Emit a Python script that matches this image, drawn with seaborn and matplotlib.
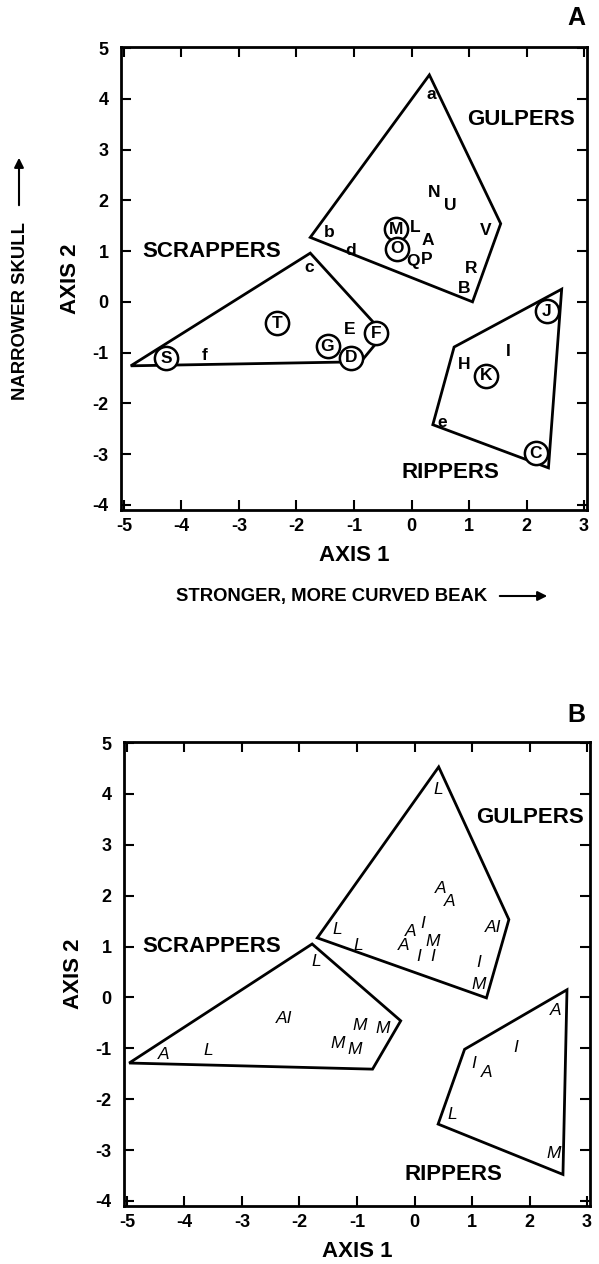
import numpy as np
import pandas as pd
import matplotlib
matplotlib.use("Agg")
import matplotlib.pyplot as plt
import seaborn as sns

# Panel A: taxon codes on the first two discriminant axes
labels_a = ['a', 'N', 'U', 'M', 'L', 'A', 'O', 'Q', 'P', 'V', 'R', 'B', 'b', 'd',
            'c', 'E', 'F', 'G', 'D', 'J', 'I', 'H', 'K', 'e', 'C', 'T', 'S', 'f']
x_a = [0.34, 0.39, 0.68, -0.27, 0.07, 0.28, -0.26, 0.02, 0.27, 1.29, 1.03, 0.91, -1.43, -1.06,
       -1.78, -1.07, -0.62, -1.46, -1.05, 2.35, 1.68, 0.91, 1.29, 0.54, 2.16, -2.33, -4.27, -3.59]
y_a = [4.09, 2.15, 1.90, 1.43, 1.46, 1.21, 1.05, 0.80, 0.84, 1.41, 0.65, 0.27, 1.36, 1.01,
       0.67, -0.54, -0.62, -0.87, -1.10, -0.19, -0.98, -1.23, -1.46, -2.37, -2.98, -0.42, -1.11, -1.05]
circled_a = ['M', 'O', 'F', 'G', 'D', 'J', 'K', 'C', 'T', 'S']

# convex hulls (panel A)
gulp_a_x = [0.31, 1.55, 1.06, -1.76]
gulp_a_y = [4.47, 1.54, 0.00, 1.27]
scrap_a_x = [-1.76, -0.48, -0.88, -4.88]
scrap_a_y = [0.96, -0.63, -1.18, -1.26]
rip_a_x = [2.61, 2.38, 0.37, 0.74]
rip_a_y = [0.25, -3.27, -2.42, -0.89]

# Panel B: age / sex codes
labels_b = ['L', 'A', 'A', 'I', 'A', 'M', 'A', 'I', 'I', 'AI', 'I', 'M', 'L', 'L',
            'L', 'AI', 'M', 'M', 'M', 'M', 'A', 'L', 'A', 'I', 'I', 'A', 'L', 'M']
x_b = [0.42, 0.45, 0.61, 0.14, -0.06, 0.31, -0.19, 0.07, 0.31, 1.37, 1.12, 1.12, -1.35, -0.97,
       -1.71, -2.26, -0.96, -0.56, -1.33, -1.04, -4.36, -3.59, 2.45, 1.76, 1.03, 1.25, 0.65, 2.42]
y_b = [4.09, 2.15, 1.88, 1.46, 1.29, 1.10, 1.02, 0.81, 0.81, 1.38, 0.68, 0.25, 1.34, 1.02,
       0.71, -0.41, -0.55, -0.62, -0.90, -1.03, -1.13, -1.05, -0.26, -0.98, -1.29, -1.47, -2.31, -3.06]

gulp_b_x = [0.42, 1.64, 1.25, -1.69]
gulp_b_y = [4.53, 1.53, -0.01, 1.17]
scrap_b_x = [-1.78, -0.24, -0.73, -4.96]
scrap_b_y = [1.05, -0.46, -1.41, -1.29]
rip_b_x = [2.65, 2.58, 0.41, 0.87]
rip_b_y = [0.15, -3.48, -2.49, -1.02]

groups = ['GULPERS', 'SCRAPPERS', 'RIPPERS']
group_a_x = [1.90, -3.47, 0.68]
group_a_y = [3.60, 0.99, -3.37]
group_b_x = [2.01, -3.52, 0.67]
group_b_y = [3.54, 1.00, -3.48]

sns.set_theme(style="ticks")
plt.rcParams["font.family"] = ["Liberation Sans", "DejaVu Sans"]
plt.rcParams["axes.unicode_minus"] = False
plt.rcParams["text.color"] = "black"
plt.rcParams["axes.labelcolor"] = "black"
plt.rcParams["xtick.color"] = "black"
plt.rcParams["ytick.color"] = "black"

W, H = 599, 1264
fig = plt.figure(figsize=(W / 100, H / 100), dpi=100)
ax_a = fig.add_axes([121 / W, 1 - 510 / H, 466 / W, 463 / H])
ax_b = fig.add_axes([124 / W, 1 - 1206 / H, 466 / W, 464 / H])


def style_axes(ax):
    ax.set_xlim(-5.05, 3.05)
    ax.set_ylim(-4.1, 5.02)
    ax.set_xticks(range(-5, 4))
    ax.set_yticks(range(-4, 6))
    ax.tick_params(direction="in", length=7, width=1.5, top=True, right=True,
                   labelsize=13, colors="black")
    ax.tick_params(axis="y", pad=9)
    ax.tick_params(axis="x", pad=6)
    for sp in ax.spines.values():
        sp.set_visible(True)
        sp.set_linewidth(2)
        sp.set_color("black")
    for lbl in ax.get_xticklabels() + ax.get_yticklabels():
        lbl.set_fontweight("bold")
    ax.set_xlabel("AXIS 1", fontsize=16, fontweight="bold", labelpad=7, color="black")
    ax.set_ylabel("AXIS 2", fontsize=16, fontweight="bold", labelpad=8, color="black")


def hull(ax, xs, ys):
    ax.fill(xs, ys, fill=False, edgecolor="black", lw=2, joinstyle="miter")


# ---- panel A
df_a = pd.DataFrame({"x": x_a, "y": y_a, "label": labels_a})
for xs, ys in [(gulp_a_x, gulp_a_y), (scrap_a_x, scrap_a_y), (rip_a_x, rip_a_y)]:
    hull(ax_a, xs, ys)
circ = df_a[df_a["label"].isin(circled_a)]
sns.scatterplot(data=circ, x="x", y="y", ax=ax_a, s=280, marker="o",
                facecolor="white", edgecolor="black", linewidth=1.8, zorder=3)
for _, r in df_a.iterrows():
    ax_a.text(r["x"], r["y"], r["label"], ha="center", va="center",
              fontsize=12.5, fontweight="bold", zorder=4)
for g, gx, gy in zip(groups, group_a_x, group_a_y):
    ax_a.text(gx, gy, g, ha="center", va="center", fontsize=16, fontweight="bold")
style_axes(ax_a)

# ---- panel B
df_b = pd.DataFrame({"x": x_b, "y": y_b, "label": labels_b})
for xs, ys in [(gulp_b_x, gulp_b_y), (scrap_b_x, scrap_b_y), (rip_b_x, rip_b_y)]:
    hull(ax_b, xs, ys)
for _, r in df_b.iterrows():
    ax_b.text(r["x"], r["y"], r["label"], ha="center", va="center",
              fontsize=12.5, fontstyle="italic", zorder=4)
for g, gx, gy in zip(groups, group_b_x, group_b_y):
    ax_b.text(gx, gy, g, ha="center", va="center", fontsize=16, fontweight="bold")
style_axes(ax_b)

# extra annotations
fig.text(332 / W, 1 - 596 / H, "STRONGER, MORE CURVED BEAK", ha="center", va="center",
         fontsize=13.3, fontweight="bold")
ax_a.annotate("", xy=(550 / W, 1 - 596 / H), xytext=(497 / W, 1 - 596 / H),
              xycoords="figure fraction", textcoords="figure fraction", annotation_clip=False,
              arrowprops=dict(arrowstyle="-|>", lw=1.5, color="black", mutation_scale=14))
fig.text(21 / W, 1 - 311 / H, "NARROWER SKULL", rotation=90, ha="center", va="center",
         fontsize=13.3, fontweight="bold")
ax_a.annotate("", xy=(19 / W, 1 - 155 / H), xytext=(19 / W, 1 - 208 / H),
              xycoords="figure fraction", textcoords="figure fraction", annotation_clip=False,
              arrowprops=dict(arrowstyle="-|>", lw=1.5, color="black", mutation_scale=14))
fig.text(576 / W, 1 - 18 / H, "A", ha="center", va="center", fontsize=18, fontweight="bold")
fig.text(576 / W, 1 - 715 / H, "B", ha="center", va="center", fontsize=18, fontweight="bold")

fig.savefig("out.png", dpi=100, facecolor="white")
